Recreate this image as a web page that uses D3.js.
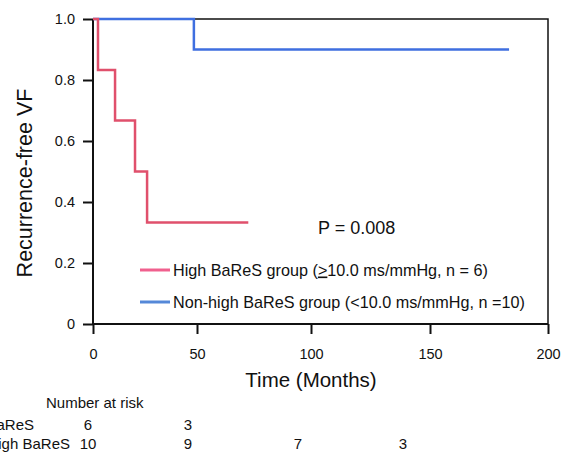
<!DOCTYPE html>
<html>
<head>
<meta charset="utf-8">
<script src="https://cdn.jsdelivr.net/npm/d3@7"></script>
<style>
  body { margin: 0; background: #fff; }
  text { font-family: "Liberation Sans", Arial, sans-serif; fill: #111; }
</style>
</head>
<body>
<div id="chart-area"></div>
<script>
var width = 562;
var height = 452;

// Kaplan-Meier steps
var highTime = [0, 2.4, 10.6, 20.2, 26, 72.5];
var highSurv = [1, 0.833, 0.667, 0.5, 0.333, 0.333];
var nonTime = [0, 48.5, 183.5];
var nonSurv = [1, 0.9, 0.9];

var xTicks = [0, 50, 100, 150, 200];
var yTicks = [0, 0.2, 0.4, 0.6, 0.8, 1.0];

var riskTimes = [0, 50, 100, 150];
var riskHigh = [6, 3];
var riskNon = [10, 9, 7, 3];
var riskLabels = ["High BaReS", "Non-high BaReS"];

var svg = d3.select("#chart-area").append("svg")
    .attr("width", width)
    .attr("height", height);

// the original axis is not evenly spaced, so use a piecewise scale
var x = d3.scaleLinear()
    .domain(xTicks)
    .range([93, 197, 311, 430, 548]);

var y = d3.scaleLinear()
    .domain([0, 1])
    .range([324, 19]);

// frame top / right
svg.append("path")
    .attr("d", "M" + x(0) + "," + y(1) + "H" + x(200) + "V" + y(0))
    .attr("fill", "none")
    .attr("stroke", "#111")
    .attr("stroke-width", 1.5);

var bottomAxis = d3.axisBottom(x)
    .tickValues(xTicks)
    .tickSize(10)
    .tickPadding(15)
    .tickFormat(d3.format("d"));
var gx = svg.append("g")
    .attr("transform", "translate(0," + y(0) + ")")
    .call(bottomAxis);

var leftAxis = d3.axisLeft(y)
    .tickValues(yTicks)
    .tickSize(10)
    .tickPadding(8)
    .tickFormat((d)=>{ return d === 0 ? "0" : d3.format(".1f")(d); });
var gy = svg.append("g")
    .attr("transform", "translate(" + x(0) + ",0)")
    .call(leftAxis);

[gx, gy].forEach(g => {
    g.select(".domain").attr("stroke", "#111").attr("stroke-width", 2);
    g.selectAll(".tick line").attr("stroke", "#111").attr("stroke-width", 2);
    g.selectAll(".tick text").attr("font-size", "14.5px").attr("fill", "#111");
});
gx.select(".domain").attr("d", "M" + x(0) + ",0H" + x(200));
gy.select(".domain").attr("d", "M0," + y(0) + "V" + y(1));

var line = d3.line()
    .x(d => x(d[0]))
    .y(d => y(d[1]))
    .curve(d3.curveStepAfter);

svg.append("path")
    .datum(nonTime.map((t, i) => [t, nonSurv[i]]))
    .attr("d", line)
    .attr("fill", "none")
    .attr("stroke", "#3f6fe0")
    .attr("stroke-width", 2.5);

svg.append("path")
    .datum(highTime.map((t, i) => [t, highSurv[i]]))
    .attr("d", line)
    .attr("fill", "none")
    .attr("stroke", "#e0506c")
    .attr("stroke-width", 2.5);

// legend
var legend = [
    {color: "#f0608e", y: 270, parts: ["High BaReS group (", ">", "10.0 ms/mmHg, n = 6)"]},
    {color: "#5588d8", y: 302, parts: ["Non-high BaReS group (<10.0 ms/mmHg, n =10)"]}
];
legend.forEach(l => {
    svg.append("line")
        .attr("x1", 140).attr("x2", 170)
        .attr("y1", l.y).attr("y2", l.y)
        .attr("stroke", l.color)
        .attr("stroke-width", 3);
    var t = svg.append("text")
        .attr("x", 173)
        .attr("y", l.y + 5.5)
        .attr("font-size", "16.2px");
    l.parts.forEach((p, i) => {
        t.append("tspan")
            .attr("text-decoration", i === 1 ? "underline" : null)
            .text(p);
    });
});

svg.append("text")
    .attr("x", 318)
    .attr("y", 234)
    .attr("font-size", "18px")
    .text("P = 0.008");

svg.append("text")
    .attr("x", 311)
    .attr("y", 387)
    .attr("font-size", "20.5px")
    .attr("text-anchor", "middle")
    .text("Time (Months)");

svg.append("text")
    .attr("x", -183)
    .attr("y", 32)
    .attr("font-size", "21.5px")
    .attr("text-anchor", "middle")
    .attr("transform", "rotate(-90)")
    .text("Recurrence-free VF");

// number at risk table
var xRisk = d3.scaleLinear()
    .domain(riskTimes)
    .range([88, 188, 298, 403]);

svg.append("text")
    .attr("x", 46)
    .attr("y", 408)
    .attr("font-size", "15px")
    .text("Number at risk");

[riskHigh, riskNon].forEach((row, r) => {
    var yy = 430 + r * 19;
    svg.append("text")
        .attr("x", r === 0 ? 34 : 70)
        .attr("y", yy)
        .attr("font-size", "15px")
        .attr("text-anchor", "end")
        .text(riskLabels[r]);
    svg.selectAll(null)
        .data(row)
        .enter()
        .append("text")
            .attr("x", (d, i) => xRisk(riskTimes[i]))
            .attr("y", yy)
            .attr("font-size", "15px")
            .attr("text-anchor", "middle")
            .text(d => d);
});
</script>
</body>
</html>
